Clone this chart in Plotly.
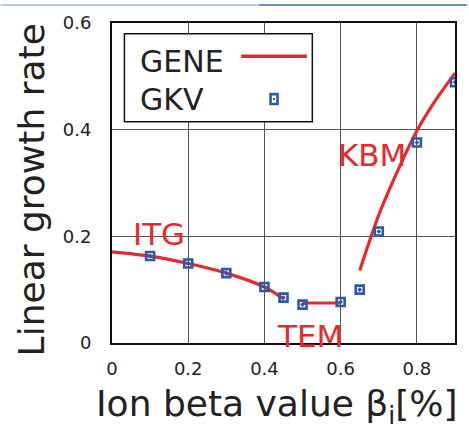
import plotly.graph_objects as go

# ---- data ----
gkv_x = [0.1, 0.2, 0.3, 0.4, 0.45, 0.5, 0.6, 0.65, 0.7, 0.8, 0.9]
gkv_y = [0.163, 0.149, 0.131, 0.105, 0.085, 0.072, 0.077, 0.100, 0.209, 0.376, 0.489]

itg_x = [0.0, 0.1, 0.2, 0.3, 0.4, 0.45]
itg_y = [0.171, 0.163, 0.149, 0.131, 0.105, 0.083]
tem_x = [0.5, 0.6]
tem_y = [0.075, 0.075]
kbm_x = [0.65, 0.70, 0.756, 0.80, 0.847, 0.90]
kbm_y = [0.136, 0.240, 0.333, 0.398, 0.453, 0.506]

x_ticks = [0, 0.2, 0.4, 0.6, 0.8]
x_ticktext = ["0", "0.2", "0.4", "0.6", "0.8"]
y_ticks = [0, 0.2, 0.4, 0.6]
y_ticktext = ["0", "0.2", "0.4", "0.6"]

regime_labels = ["ITG", "TEM", "KBM"]
regime_x = [0.1245, 0.519, 0.681]
regime_y = [0.205, 0.013, 0.352]

RED = "#e8282c"
BLUE = "#2b5aa8"
FONT = "DejaVu Sans"

gene_x = itg_x + [None] + tem_x + [None] + kbm_x
gene_y = itg_y + [None] + tem_y + [None] + kbm_y

fig = go.Figure()
fig.add_trace(go.Scatter(x=gene_x, y=gene_y, mode="lines", name="GENE",
                         line=dict(color=RED, width=3.2, shape="spline", smoothing=0.8),
                         connectgaps=False, showlegend=False))
fig.add_trace(go.Scatter(x=gkv_x, y=gkv_y, mode="markers", name="GKV",
                         marker=dict(symbol="square-open-dot", size=8, color=BLUE,
                                     line=dict(width=2.6, color=BLUE)),
                         showlegend=False))

# plot area in pixels: x 112..457, y 19..343
W, H = 469, 430
L, R, T, B = 112, 12, 19, 87
pw, ph = W - L - R, H - T - B


def px(xp):
    return (xp - L) / pw


def py(yp):
    return (H - B - yp) / ph


shapes = []
# top strip artifact
shapes.append(dict(type="line", xref="paper", yref="paper", x0=px(0), x1=px(260),
                   y0=py(0.7), y1=py(0.7), line=dict(color="#9dbbd9", width=1.5), layer="above"))
shapes.append(dict(type="line", xref="paper", yref="paper", x0=px(260), x1=px(469),
                   y0=py(0.7), y1=py(0.7), line=dict(color="#2f6fb3", width=1.5), layer="above"))
# legend box
shapes.append(dict(type="rect", xref="paper", yref="paper", x0=px(124.5), x1=px(313.5),
                   y0=py(119), y1=py(30), fillcolor="white",
                   line=dict(color="#111", width=1.5), layer="above"))
# legend line sample
shapes.append(dict(type="line", xref="paper", yref="paper", x0=px(242), x1=px(308),
                   y0=py(52.7), y1=py(52.7), line=dict(color=RED, width=3.5), layer="above"))
# legend marker sample
shapes.append(dict(type="rect", xref="paper", yref="paper", x0=px(271.5), x1=px(278.5),
                   y0=py(101), y1=py(91), fillcolor="white",
                   line=dict(color=BLUE, width=2.6), layer="above"))
shapes.append(dict(type="rect", xref="paper", yref="paper", x0=px(274), x1=px(276),
                   y0=py(97), y1=py(95), fillcolor=BLUE,
                   line=dict(color=BLUE, width=0), layer="above"))

annotations = []
annotations.append(dict(text="GENE", xref="paper", yref="paper", x=px(138), y=py(57.5),
                        xanchor="left", yanchor="middle", showarrow=False,
                        font=dict(family=FONT, size=30, color="#222")))
annotations.append(dict(text="GKV", xref="paper", yref="paper", x=px(138), y=py(96),
                        xanchor="left", yanchor="middle", showarrow=False,
                        font=dict(family=FONT, size=30, color="#222")))
for t, xv, yv in zip(regime_labels, regime_x, regime_y):
    annotations.append(dict(text=t, x=xv, y=yv, xref="x", yref="y", showarrow=False,
                            xanchor="center", yanchor="middle",
                            font=dict(family=FONT, size=31, color=RED)))
# axis titles
annotations.append(dict(text="Ion beta value β<sub>i</sub>[%]", xref="paper", yref="paper",
                        x=px(278), y=py(407), xanchor="center", yanchor="middle",
                        showarrow=False, font=dict(family=FONT, size=36, color="#222")))
annotations.append(dict(text="Linear growth rate", xref="paper", yref="paper",
                        x=px(31), y=py(188), xanchor="center", yanchor="middle",
                        textangle=-90, showarrow=False,
                        font=dict(family=FONT, size=36, color="#222")))

fig.update_layout(
    width=W, height=H,
    margin=dict(l=L, r=R, t=T, b=B),
    paper_bgcolor="white", plot_bgcolor="white",
    showlegend=False,
    shapes=shapes, annotations=annotations,
    xaxis=dict(range=[0, 0.9], tickvals=x_ticks, ticktext=x_ticktext,
               showgrid=True, gridcolor="#555", gridwidth=1.3,
               showline=True, linecolor="#111", linewidth=2, mirror=True,
               ticks="", zeroline=False, ticklabelstandoff=8,
               tickfont=dict(family=FONT, size=18, color="#222")),
    yaxis=dict(range=[0, 0.6], tickvals=y_ticks, ticktext=y_ticktext,
               showgrid=True, gridcolor="#555", gridwidth=1.3,
               showline=True, linecolor="#111", linewidth=2, mirror=True,
               ticks="", zeroline=False, ticklabelstandoff=15,
               tickfont=dict(family=FONT, size=18, color="#222")),
)

fig.write_html("out.html")
